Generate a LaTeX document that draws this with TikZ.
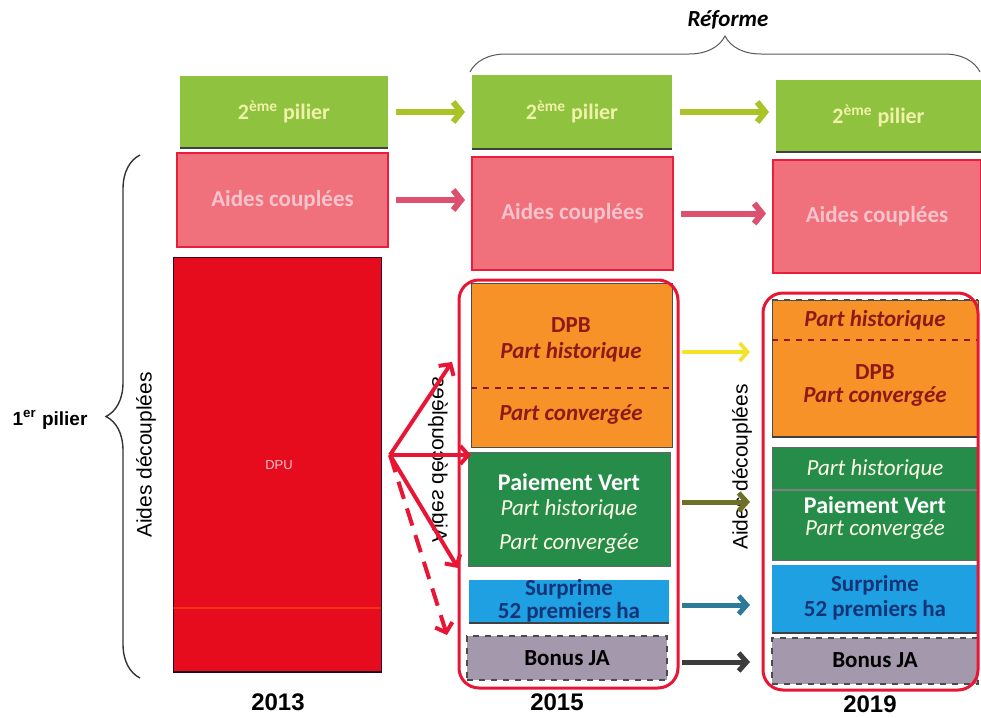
\documentclass[tikz,border=0pt]{standalone}
\usepackage{fontspec}
\setmainfont{Carlito}
\newfontfamily\arialfont{Liberation Sans}
\usetikzlibrary{arrows.meta,positioning,decorations.pathreplacing}

\definecolor{pilgreen}{RGB}{143,194,62}
\definecolor{piltext}{RGB}{240,242,170}
\definecolor{coupfill}{RGB}{240,112,124}
\definecolor{coupedge}{RGB}{232,30,60}
\definecolor{couptext}{RGB}{248,196,204}
\definecolor{dpured}{RGB}{230,12,30}
\definecolor{dpbfill}{RGB}{246,146,40}
\definecolor{dpbtext}{RGB}{140,26,24}
\definecolor{vertfill}{RGB}{38,140,74}
\definecolor{surfill}{RGB}{30,160,226}
\definecolor{surtext}{RGB}{20,52,120}
\definecolor{bonfill}{RGB}{164,152,172}
\definecolor{framered}{RGB}{232,22,52}
\definecolor{arrgreen}{RGB}{170,196,40}
\definecolor{arrpink}{RGB}{222,80,112}
\definecolor{arryellow}{RGB}{244,226,40}
\definecolor{arrolive}{RGB}{110,112,40}
\definecolor{arrteal}{RGB}{44,122,152}
\definecolor{arrdark}{RGB}{60,60,60}

\begin{document}
\begin{tikzpicture}[
  x=0.5pt, y=-0.5pt,
  font=\fontsize{11.5}{13}\selectfont,
  box/.style={inner sep=0pt, outer sep=0pt},
  pil/.style={box, fill=pilgreen, text=piltext, font=\fontsize{11}{13}\selectfont\bfseries},
  coup/.style={box, fill=coupfill, draw=coupedge, line width=1pt, text=couptext, font=\fontsize{11.5}{13}\selectfont\bfseries},
  dpu/.style={box, fill=dpured, draw=violet!40!black, line width=0.5pt},
  dpb/.style={box, fill=dpbfill, draw=black!70, line width=0.4pt},
  vert/.style={box, fill=vertfill, draw=black!60, line width=0.4pt},
  sur/.style={box, fill=surfill},
  bon/.style={box, fill=bonfill, draw=black!70, dashed, line width=0.6pt},
  redframe/.style={box, draw=framered, line width=1.5pt, rounded corners=10pt},
  txt/.style={inner sep=0pt},
  dpbhead/.style={txt, text=dpbtext, font=\fontsize{11.5}{13}\selectfont\bfseries},
  dpbtxt/.style={txt, text=dpbtext, font=\fontsize{11.5}{13}\selectfont\bfseries\itshape},
  verthead/.style={txt, text=white, font=\fontsize{12}{14}\selectfont\bfseries},
  verttxt/.style={txt, text=white!90!yellow, font=\fontsize{11.5}{13}\selectfont\itshape},
  surtxt/.style={txt, text=surtext, font=\fontsize{11.5}{13}\selectfont\bfseries},
  bontxt/.style={txt, text=black, font=\fontsize{11.5}{13}\selectfont\bfseries},
  year/.style={txt, font=\arialfont\bfseries\fontsize{12}{14}\selectfont},
  rottxt/.style={txt, font=\arialfont\fontsize{10.5}{12}\selectfont},
  bottom/.style={draw=black!75, line width=1.2pt},
  sep/.style={dashed, draw=dpbtext, line width=0.8pt},
  arr/.style={line width=3pt, -{Straight Barb[length=4pt,width=10pt]}, shorten <=4pt, shorten >=3.5pt},
  arrb/.style={line width=2.5pt, -{Straight Barb[length=4pt,width=9pt]}, shorten <=2pt, shorten >=6.5pt},
  redarr/.style={draw=framered, line width=2pt, -{Straight Barb[length=4pt,width=9pt]}},
  brace/.style={decorate, decoration={brace, amplitude=#1}, line width=0.7pt, draw=black!80}
]
\useasboundingbox (0,0) rectangle (981,718);

% 2013
\node[pil, minimum width=104pt, minimum height=36pt] (pil13) at (284,112) {2\textsuperscript{ème} pilier};
\node[coup, minimum width=105.5pt, minimum height=47pt] (coup13) at (282.5,200) {Aides couplées};
\node[dpu, minimum width=104pt, minimum height=207.5pt] (dpu13) at (277,464.5) {};
\draw[orange!70!red, line width=0.8pt, opacity=0.5] (dpu13.west |- 0,608) -- (dpu13.east |- 0,608);
\draw[bottom, draw=violet!30!black] (dpu13.south west) -- (dpu13.south east);
\node[txt, text=couptext, font=\arialfont\fontsize{6.5}{8}\selectfont] (dputxt) at (279,465) {DPU};
\draw[bottom] (pil13.south west) -- (pil13.south east);

% 2015
\node[pil, minimum width=100pt, minimum height=37pt] (pil15) at (572,112) {2\textsuperscript{ème} pilier};
\node[coup, minimum width=100.5pt, minimum height=56.5pt] (coup15) at (572.5,213.5) {Aides couplées};
\node[dpb, minimum width=100.5pt, minimum height=82pt] (dpb15) at (571.5,365) {};
\draw[sep] (dpb15.west |- 0,388) -- (dpb15.east |- 0,388);
\node[dpbhead] (dpbh15) at (571,325) {DPB};
\node[dpbtxt] (hist15) at (571,352) {Part historique};
\node[dpbtxt] (conv15) at (571,415) {Part convergée};
\node[vert, minimum width=101pt, minimum height=57pt] (vert15) at (569,509) {};
\node[verthead] (verth15) at (569,482) {Paiement Vert};
\node[verttxt] (vhist15) at (569,509) {Part historique};
\node[verttxt] (vconv15) at (569,544) {Part convergée};
\node[sur, minimum width=100pt, minimum height=21.5pt] (sur15) at (569,601.5) {};
\draw[bottom] (sur15.south west) -- (sur15.south east);
\node[surtxt] (surh15) at (569,589) {Surprime};
\node[surtxt] (ha15) at (569,612) {52 premiers ha};
\node[bon, minimum width=100pt, minimum height=22pt] (bon15) at (567,658) {};
\node[bontxt] (bonus15) at (567,658) {Bonus JA};
\draw[bottom] (pil15.south west) -- (pil15.south east);

% 2019
\node[pil, minimum width=102.5pt, minimum height=36pt] (pil19) at (878.5,116) {2\textsuperscript{ème} pilier};
\node[coup, minimum width=104pt, minimum height=56.5pt] (coup19) at (877,216.5) {Aides couplées};
\node[dpb, minimum width=103pt, minimum height=68.5pt] (dpb19) at (875,368.5) {};
\draw[sep] (dpb19.west |- 0,340) -- (dpb19.east |- 0,340);
\draw[sep, draw=black!70] (dpb19.north west) -- (dpb19.north east);
\node[dpbtxt] (hist19) at (875,320) {Part historique};
\node[dpbhead] (dpbh19) at (875,372) {DPB};
\node[dpbtxt] (conv19) at (875,397) {Part convergée};
\draw[bottom] (dpb19.south west) -- (dpb19.south east);
\node[vert, minimum width=103pt, minimum height=56.5pt] (vert19) at (875,503.5) {};
\draw[black!50, line width=0.6pt] (vert19.west |- 0,490) -- (vert19.east |- 0,490);
\node[verttxt] (vhist19) at (875,469) {Part historique};
\node[verthead] (verth19) at (875,505) {Paiement Vert};
\node[verttxt] (vconv19) at (875,530) {Part convergée};
\node[sur, minimum width=103pt, minimum height=34pt] (sur19) at (875,599) {};
\draw[bottom] (sur19.south west) -- (sur19.south east);
\node[surtxt] (surh19) at (875,585) {Surprime};
\node[surtxt] (ha19) at (875,610) {52 premiers ha};
\node[bon, minimum width=103pt, minimum height=23pt] (bon19) at (875,661) {};
\node[bontxt] (bonus19) at (875,660) {Bonus JA};
\draw[bottom] (pil19.south west) -- (pil19.south east);

% labels
\node[year] (y13) at (278,702) {2013};
\node[year] (y15) at (557,702) {2015};
\node[year] (y19) at (870,704) {2019};
\node[rottxt] (ad13) at (146,455) {\rotatebox{90}{Aides découplées}};
\node[rottxt] (ad15) at (438,460) {\reflectbox{\rotatebox{90}{Aides découplées}}};
\node[rottxt] (ad19) at (742,467) {\rotatebox{90}{Aides découplées}};

% braces
\coordinate (brlo) at (140,678);
\coordinate (brhi) at (140,155);
\draw[brace=17pt] (brlo) -- (brhi);
\node[txt, font=\arialfont\bfseries\fontsize{9.5}{11}\selectfont] (pil1) at (50,420) {1\textsuperscript{er} pilier};
\coordinate (refl) at (470,72);
\coordinate (refr) at (980,72);
\draw[brace=18pt, line width=0.5pt, draw=black!65] (refl) -- (refr);
\node[txt, font=\fontsize{11.5}{13}\selectfont\bfseries\itshape] (reforme) at (728,20) {Réforme};

% arrows 2013 -> 2015
\draw[arr, draw=arrgreen] (pil13) -- (pil15);
\draw[arr, draw=arrpink] (coup13.east) -- (coup13.east -| coup15.west);
\draw[arr, draw=arrpink] (coup15.east) -- (coup15.east -| coup19.west);
\draw[arr, draw=arrgreen] (pil15.east) -- (pil15.east -| pil19.west);

% split of the DPU
\coordinate (split) at (390,455);
\coordinate (tdpb) at (452,362);
\coordinate (tsur) at (458,568);
\coordinate (tbon) at (447,635);
\draw[redarr] (split) -- (tdpb);
\draw[redarr] (split) -- (split -| dpb15.west);
\draw[redarr] (split) -- (tsur);
\draw[redarr, dash pattern=on 9pt off 5pt] (split) -- (tbon);

% frames
\node[redframe, minimum width=109.5pt, minimum height=204pt] (frame15) at (568.5,484) {};
\node[redframe, minimum width=107.5pt, minimum height=198.5pt] (frame19) at (870.5,491.5) {};

% arrows 2015 -> 2019
\draw[arrb, draw=arryellow, line width=1.8pt] (frame15.east |- hist15) -- (frame19.west |- hist15);
\draw[arrb, draw=arrolive] (frame15.east |- 0,502) -- (frame19.west |- 0,502);
\draw[arrb, draw=arrteal] (frame15.east |- 0,605) -- (frame19.west |- 0,605);
\draw[arrb, draw=arrdark] (frame15.east |- 0,662) -- (frame19.west |- 0,662);
\end{tikzpicture}
\end{document}
